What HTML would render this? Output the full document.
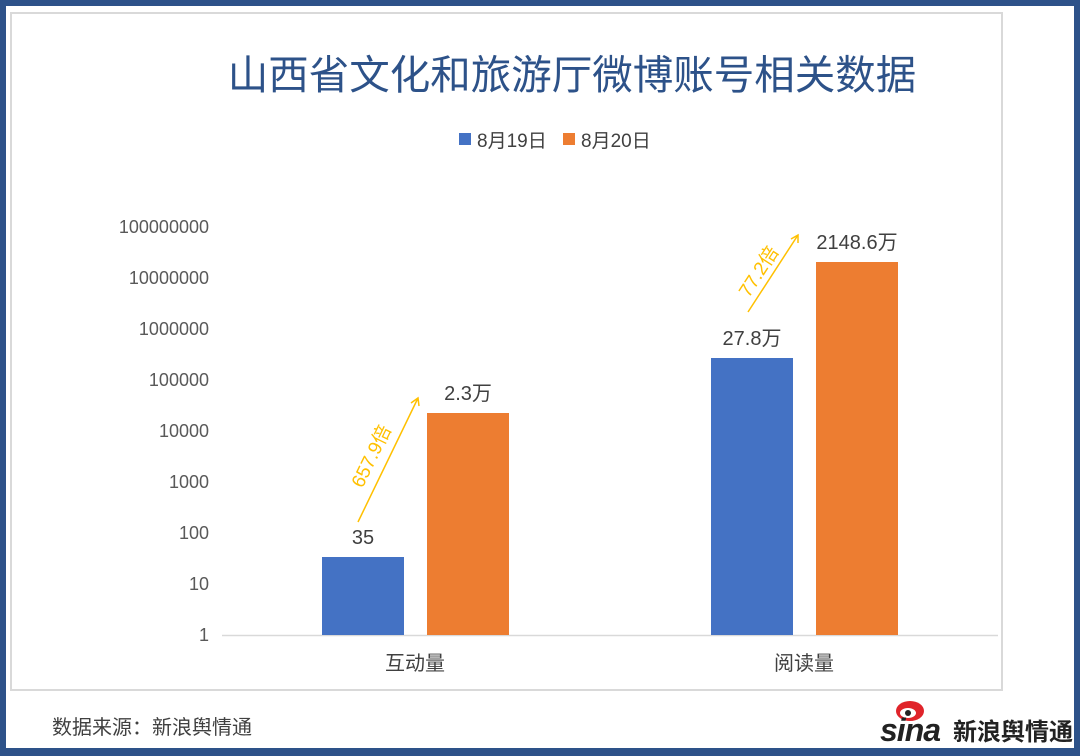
<!DOCTYPE html>
<html><head><meta charset="utf-8"><style>
body{margin:0;width:1080px;height:756px;background:#fff;overflow:hidden;font-family:"Liberation Sans","Noto Sans CJK SC",sans-serif}
</style></head><body>
<svg width="1080" height="756" xmlns="http://www.w3.org/2000/svg" style="position:absolute;left:0;top:0;font-family:'Liberation Sans','Noto Sans CJK SC',sans-serif">
<rect x="0" y="0" width="1080" height="756" fill="#2d5289"/>
<rect x="6" y="6" width="1068" height="742" fill="#fff"/>
<rect x="11" y="13" width="991" height="677" fill="#fff" stroke="#d9d9d9" stroke-width="2"/>
<text x="572" y="89" font-size="40.5" fill="#2d5289" text-anchor="middle">山西省文化和旅游厅微博账号相关数据</text>
<rect x="459" y="133" width="12" height="12" fill="#4472c4"/>
<text x="477" y="147" font-size="19" fill="#404040">8月19日</text>
<rect x="563" y="133" width="12" height="12" fill="#ed7d31"/>
<text x="581" y="147" font-size="19" fill="#404040">8月20日</text>
<g font-size="18" fill="#595959" text-anchor="end">
<text x="209" y="641">1</text><text x="209" y="590">10</text><text x="209" y="539">100</text>
<text x="209" y="488">1000</text><text x="209" y="437">10000</text><text x="209" y="386">100000</text>
<text x="209" y="335">1000000</text><text x="209" y="284">10000000</text><text x="209" y="233">100000000</text>
</g>
<line x1="222" y1="635.5" x2="998" y2="635.5" stroke="#d9d9d9" stroke-width="1.5"/>
<rect x="322" y="557" width="82" height="78" fill="#4472c4"/>
<rect x="427" y="413" width="82" height="222" fill="#ed7d31"/>
<rect x="711" y="358" width="82" height="277" fill="#4472c4"/>
<rect x="816" y="262" width="82" height="373" fill="#ed7d31"/>
<g font-size="20" fill="#404040" text-anchor="middle">
<text x="363" y="544">35</text><text x="468" y="400">2.3万</text>
<text x="752" y="345">27.8万</text><text x="857" y="249">2148.6万</text>
<text x="415" y="670">互动量</text><text x="804" y="670">阅读量</text>
</g>
<g stroke="#ffc000" stroke-width="1.5" fill="none">
<line x1="358" y1="522" x2="418" y2="398"/><polyline points="411,403 418,398 419,406"/>
<line x1="748" y1="312" x2="798" y2="235"/><polyline points="791,239 798,235 798,243"/>
</g>
<text transform="translate(377,459) rotate(-64)" font-size="19" fill="#ffc000" text-anchor="middle">657.9倍</text>
<text transform="translate(764,275) rotate(-57)" font-size="19" fill="#ffc000" text-anchor="middle">77.2倍</text>
<text x="52" y="734" font-size="20" fill="#404040">数据来源：新浪舆情通</text>
<ellipse cx="910" cy="711" rx="14" ry="10" fill="#e0242a"/>
<ellipse cx="908" cy="713" rx="8" ry="5" fill="#fff"/>
<circle cx="908" cy="713" r="3" fill="#222"/>
<text x="880" y="741" font-size="32" font-style="italic" font-weight="bold" fill="#222" letter-spacing="-1">sina</text>
<text x="953" y="740" font-size="24" font-weight="bold" fill="#222">新浪舆情通</text>
</svg>
</body></html>
